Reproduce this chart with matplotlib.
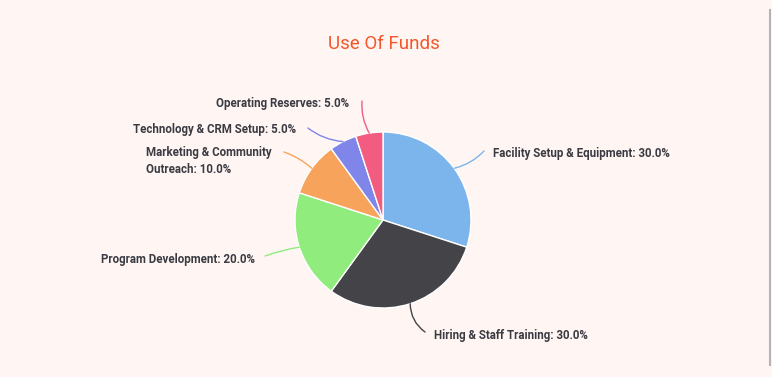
import numpy as np
import matplotlib.pyplot as plt

labels = ['Facility Setup & Equipment', 'Hiring & Staff Training', 'Program Development',
          'Marketing & Community\nOutreach', 'Technology & CRM Setup', 'Operating Reserves']
values = [30.0, 30.0, 20.0, 10.0, 5.0, 5.0]
colors = ['#7cb5ec', '#434348', '#90ed7d', '#f7a35c', '#8085e9', '#f15c80']

W, H = 772, 377
bg = '#fff6f3'

fig = plt.figure(figsize=(W / 100, H / 100), dpi=100, facecolor=bg)
ax = fig.add_axes([0, 0, 1, 1])
ax.set_xlim(0, W)
ax.set_ylim(0, H)
ax.set_facecolor(bg)
ax.axis('off')

cx, cy, r = 383, H - 220, 88
wedges, _ = ax.pie(values, colors=colors, startangle=90, counterclock=False,
                   center=(cx, cy), radius=r, frame=True,
                   wedgeprops=dict(edgecolor='white', linewidth=1))
ax.set_xlim(0, W)
ax.set_ylim(0, H)
ax.axis('off')

# label anchors (pixel coords, y down), connector end points, alignment, rad
text_pos = [(493, 154), (434, 335), (255, 259), (146, 161), (296, 129), (349, 104)]
conn_end = [(484, 151), (425, 332), (265, 256), (284, 152), (308, 128), (362, 101)]
ha = ['left', 'left', 'right', 'left', 'right', 'right']
rads = [0.15, 0.25, 0.05, 0.1, -0.15, -0.15]

total = sum(values)
start = 90.0
for i, v in enumerate(values):
    mid = np.deg2rad(start - v / total * 180)
    start -= v / total * 360
    px, py = cx + r * np.cos(mid), cy + r * np.sin(mid)
    ex, ey = conn_end[i]
    ax.annotate('', xy=(ex, H - ey), xytext=(px, py),
                arrowprops=dict(arrowstyle='-', color=colors[i], lw=1,
                                shrinkA=0, shrinkB=0,
                                connectionstyle='arc3,rad=%s' % rads[i]))
    tx, ty = text_pos[i]
    ax.text(tx, H - ty, '%s: %.1f%%' % (labels[i], v), ha=ha[i], va='center',
            fontsize=8.3, fontweight='bold', family='Roboto', color='#3a3a42',
            linespacing=1.35)

ax.text(384, H - 44, 'Use Of Funds', ha='center', va='center', fontsize=13.5,
        family='Roboto', color='#f4562a')

ax.plot([770, 770], [H - 10, H - 365], color='#b3b3b3', lw=1.5)

fig.savefig('out.png', dpi=100, facecolor=bg)
